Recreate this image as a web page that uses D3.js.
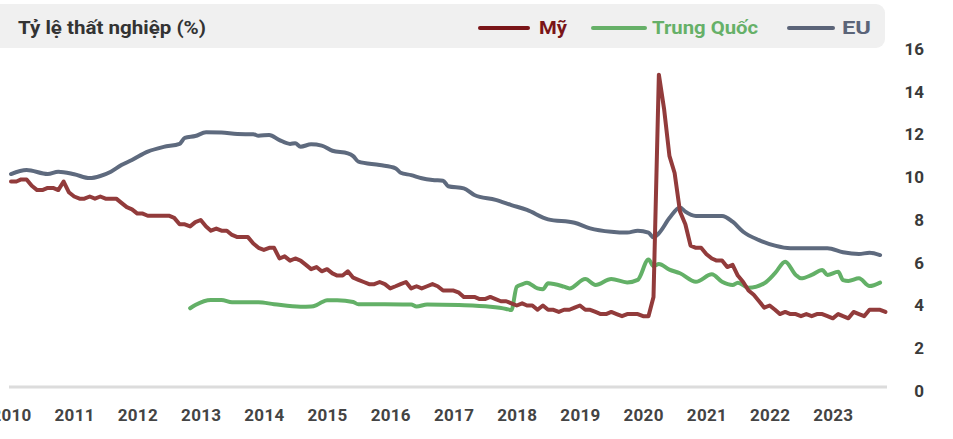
<!DOCTYPE html>
<html>
<head>
<meta charset="utf-8">
<script src="https://cdn.jsdelivr.net/npm/d3@7"></script>
<style>
  html, body { margin: 0; padding: 0; background: #ffffff; }
  svg { display: block; }
  text { font-family: Roboto, "Noto Sans", "DejaVu Sans", sans-serif; }
</style>
</head>
<body>
<svg id="chart" width="953" height="439"></svg>
<script>
// ---------- DATA ----------
const title = "Tỷ lệ thất nghiệp (%)";
const seriesNames = ["Mỹ", "Trung Quốc", "EU"];
const yearTicks = [2010, 2011, 2012, 2013, 2014, 2015, 2016, 2017, 2018, 2019, 2020, 2021, 2022, 2023];
const valueTicks = [0, 2, 4, 6, 8, 10, 12, 14, 16];

// US: monthly from 2010-01 to 2023-11
const usStart = "2010-01";
const usValues = [
  9.8, 9.8, 9.9, 9.9, 9.6, 9.4, 9.4, 9.5, 9.5, 9.4, 9.8, 9.3,
  9.1, 9.0, 9.0, 9.1, 9.0, 9.1, 9.0, 9.0, 9.0, 8.8, 8.6, 8.5,
  8.3, 8.3, 8.2, 8.2, 8.2, 8.2, 8.2, 8.1, 7.8, 7.8, 7.7, 7.9,
  8.0, 7.7, 7.5, 7.6, 7.5, 7.5, 7.3, 7.2, 7.2, 7.2, 6.9, 6.7,
  6.6, 6.7, 6.7, 6.2, 6.3, 6.1, 6.2, 6.1, 5.9, 5.7, 5.8, 5.6,
  5.7, 5.5, 5.4, 5.4, 5.6, 5.3, 5.2, 5.1, 5.0, 5.0, 5.1, 5.0,
  4.8, 4.9, 5.0, 5.1, 4.8, 4.9, 4.8, 4.9, 5.0, 4.9, 4.7, 4.7,
  4.7, 4.6, 4.4, 4.4, 4.4, 4.3, 4.3, 4.4, 4.3, 4.2, 4.2, 4.1,
  4.0, 4.1, 4.0, 4.0, 3.8, 4.0, 3.8, 3.8, 3.7, 3.8, 3.8, 3.9,
  4.0, 3.8, 3.8, 3.7, 3.6, 3.6, 3.7, 3.6, 3.5, 3.6, 3.6, 3.6,
  3.5, 3.5, 4.4, 14.8, 13.2, 11.0, 10.2, 8.4, 7.8, 6.8, 6.7, 6.7,
  6.4, 6.2, 6.1, 6.1, 5.8, 5.9, 5.4, 5.1, 4.7, 4.5, 4.2, 3.9,
  4.0, 3.8, 3.6, 3.7, 3.6, 3.6, 3.5, 3.6, 3.5, 3.6, 3.6, 3.5,
  3.4, 3.6, 3.5, 3.4, 3.7, 3.6, 3.5, 3.8, 3.8, 3.8, 3.7
];

// China
const cnDates = [
  "2012-11","2012-12","2013-03","2013-05","2013-07","2013-12","2014-03","2014-08","2014-10","2014-11",
  "2014-12","2015-01","2015-03","2015-06","2015-07","2016-05","2016-06","2016-08","2017-02","2017-08",
  "2017-11","2017-12","2018-01","2018-02","2018-03","2018-05","2018-06","2018-07","2018-10","2018-11",
  "2019-02","2019-04","2019-07","2019-10","2019-12","2020-02","2020-03","2020-04","2020-06","2020-08",
  "2020-11","2021-02","2021-04","2021-06","2021-07","2021-09","2021-12","2022-02","2022-04","2022-06",
  "2022-07","2022-09","2022-11","2022-12","2023-02","2023-03","2023-04","2023-06","2023-08","2023-10"
];
const cnValues = [
  3.87, 4.02, 4.26, 4.26, 4.15, 4.15, 4.06, 3.94, 3.95, 4.02,
  4.15, 4.24, 4.24, 4.16, 4.06, 4.05, 3.95, 4.05, 4.02, 3.94,
  3.84, 3.79, 4.88, 4.99, 5.07, 4.80, 4.76, 5.04, 4.88, 4.80,
  5.24, 4.96, 5.24, 5.08, 5.20, 6.15, 5.84, 5.94, 5.68, 5.51,
  5.11, 5.46, 5.11, 4.96, 5.07, 4.83, 5.04, 5.51, 6.05, 5.43,
  5.27, 5.43, 5.66, 5.43, 5.58, 5.19, 5.15, 5.27, 4.91, 5.07
];

// EU
const euDates = [
  "2010-01","2010-04","2010-08","2010-10","2011-01","2011-04","2011-06","2011-08","2011-10","2011-12",
  "2012-03","2012-06","2012-09","2012-10","2012-12","2013-02","2013-05","2013-08","2013-11","2013-12",
  "2014-02","2014-04","2014-06","2014-07","2014-08","2014-10","2014-12","2015-02","2015-05","2015-06",
  "2015-07","2015-11","2016-02","2016-03","2016-05","2016-07","2016-09","2016-11","2016-12","2017-03",
  "2017-05","2017-09","2017-12","2018-03","2018-07","2018-12","2019-03","2019-07","2019-10","2019-12",
  "2020-02","2020-03","2020-04","2020-06","2020-08","2020-09","2020-11","2021-04","2021-06","2021-08",
  "2021-11","2022-02","2022-05","2022-12","2023-03","2023-06","2023-08","2023-10"
];
const euValues = [
  10.15, 10.34, 10.15, 10.26, 10.14, 9.96, 10.06, 10.26, 10.57, 10.81,
  11.20, 11.42, 11.56, 11.84, 11.93, 12.10, 12.09, 12.02, 12.01, 11.94,
  11.98, 11.74, 11.56, 11.59, 11.43, 11.54, 11.48, 11.24, 11.12, 10.99,
  10.73, 10.57, 10.42, 10.21, 10.10, 9.95, 9.87, 9.84, 9.58, 9.48,
  9.17, 8.94, 8.70, 8.47, 8.03, 7.87, 7.61, 7.45, 7.41, 7.50,
  7.41, 7.19, 7.38, 8.09, 8.59, 8.39, 8.19, 8.19, 7.92, 7.45,
  7.06, 6.80, 6.68, 6.68, 6.49, 6.41, 6.47, 6.36
];

const lineColors = ["#923b3b", "#63b067", "#5e6a7e"];
const legendColors = ["#7a1518", "#66b068", "#5b6478"];

// ---------- CHART ----------
const parse = d3.timeParse("%Y-%m");
const svg = d3.select("#chart");

const x = d3.scaleTime()
  .domain([new Date(2010, 0, 1), new Date(2024, 0, 1)])
  .range([11, 896]);
const y = d3.scaleLinear().domain([0, 16]).range([391, 49]);

const usStartDate = parse(usStart);
const usData = usValues.map((v, i) => ({ date: d3.timeMonth.offset(usStartDate, i), value: v }));
const cnData = cnDates.map((d, i) => ({ date: parse(d), value: cnValues[i] }));
const euData = euDates.map((d, i) => ({ date: parse(d), value: euValues[i] }));

// header band
svg.append("rect")
  .attr("x", -12).attr("y", 4).attr("width", 897).attr("height", 44)
  .attr("rx", 9).attr("fill", "#f0f0f0");

svg.append("text")
  .attr("x", 18).attr("y", 34)
  .attr("font-size", 19).attr("font-weight", 700).attr("fill", "#333")
  .attr("textLength", 188).attr("lengthAdjust", "spacingAndGlyphs")
  .text(title);

// legend
const legendItems = [
  { name: seriesNames[0], lx: 480, lw: 48, tx: 539, tw: 28 },
  { name: seriesNames[1], lx: 593, lw: 52, tx: 652, tw: 106 },
  { name: seriesNames[2], lx: 789, lw: 44, tx: 842, tw: 29 }
];
legendItems.forEach((it, i) => {
  svg.append("line")
    .attr("x1", it.lx).attr("x2", it.lx + it.lw)
    .attr("y1", 28).attr("y2", 28)
    .attr("stroke", legendColors[i]).attr("stroke-width", 4).attr("stroke-linecap", "round");
  svg.append("text")
    .attr("x", it.tx).attr("y", 34)
    .attr("font-size", 19).attr("font-weight", 700).attr("fill", legendColors[i])
    .attr("textLength", it.tw).attr("lengthAdjust", "spacingAndGlyphs")
    .text(it.name);
});

// baseline
svg.append("line")
  .attr("x1", 9).attr("x2", 887)
  .attr("y1", y(0) - 4).attr("y2", y(0) - 4)
  .attr("stroke", "#dcdcdc").attr("stroke-width", 3);

// y axis labels (right)
const yAxis = d3.axisRight(y).tickValues(valueTicks).tickSize(0).tickPadding(0);
const gy = svg.append("g").attr("transform", "translate(906,0)").call(yAxis);
gy.select(".domain").remove();
gy.selectAll("text")
  .attr("x", 18).attr("text-anchor", "end")
  .attr("font-size", 17).attr("font-weight", 700).attr("fill", "#3a3a3a")
  .style("font-family", "Roboto, sans-serif");

// x axis labels
const xAxis = d3.axisBottom(x)
  .tickValues(yearTicks.map(yr => new Date(yr, 0, 1)))
  .tickFormat(d3.timeFormat("%Y")).tickSize(0).tickPadding(0);
const gx = svg.append("g").attr("transform", "translate(0,409)").call(xAxis);
gx.select(".domain").remove();
gx.selectAll("text")
  .attr("font-size", 17).attr("font-weight", 700).attr("fill", "#444")
  .attr("letter-spacing", "0.3px")
  .style("font-family", "Roboto, sans-serif");

// lines
const line = d3.line().x(d => x(d.date)).y(d => y(d.value));
const lineSmooth = d3.line().x(d => x(d.date)).y(d => y(d.value)).curve(d3.curveMonotoneX);

const drawLine = (data, gen, color) => svg.append("path")
  .datum(data)
  .attr("d", gen)
  .attr("fill", "none")
  .attr("stroke", color)
  .attr("stroke-width", 4)
  .attr("stroke-linejoin", "round")
  .attr("stroke-linecap", "round");

drawLine(euData, lineSmooth, lineColors[2]);
drawLine(cnData, lineSmooth, lineColors[1]);
drawLine(usData, line, lineColors[0]);
</script>
</body>
</html>
